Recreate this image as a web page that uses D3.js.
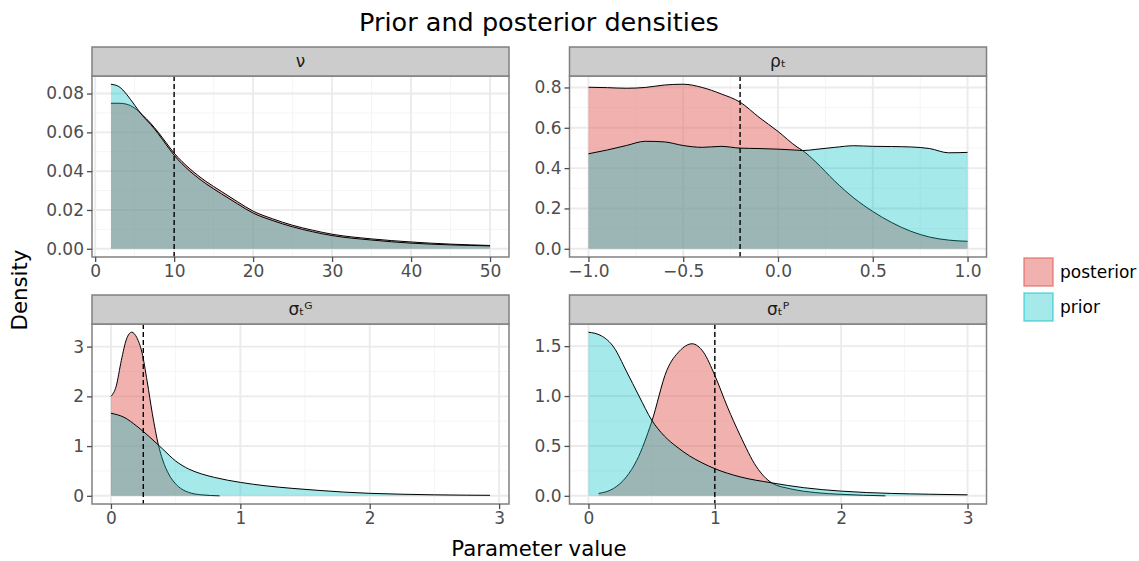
<!doctype html>
<html>
<head>
<meta charset="utf-8">
<script src="https://cdn.jsdelivr.net/npm/d3@7"></script>
<style>
  body { margin: 0; background: #fff; }
  svg text { font-family: "DejaVu Sans", sans-serif; }
</style>
</head>
<body>
<svg id="chart" width="1139" height="561"></svg>
<script>
// ---- data ----
const panelLabels = ["ν", "ρₜ", "σₜᴳ", "σₜᴾ"];
const groups = ["posterior", "prior"];
const refLines = [10, -0.2, 0.25, 1.0];

// nu
const nuX     = [2, 3, 4, 5, 6, 7, 8, 9, 10, 12, 14, 16, 18, 20, 22.5, 25, 27.5, 30, 35, 40, 45, 50];
const nuPrior = [0.0848, 0.0836, 0.0795, 0.0740, 0.0686, 0.0642, 0.0592, 0.0536, 0.0482, 0.0400, 0.0336, 0.0283, 0.0232, 0.0184, 0.0145, 0.0113, 0.0088, 0.0068, 0.0045, 0.0029, 0.0020, 0.0015];
const nuPost  = [0.0750, 0.0750, 0.0745, 0.0725, 0.0689, 0.0648, 0.0600, 0.0546, 0.0493, 0.0412, 0.0348, 0.0295, 0.0243, 0.0194, 0.0154, 0.0121, 0.0096, 0.0075, 0.0051, 0.0035, 0.0024, 0.0017];

// rho
const rhoX     = [-1, -0.9, -0.8, -0.7, -0.6, -0.5, -0.4, -0.3, -0.2, -0.1, 0, 0.1, 0.13, 0.2, 0.3, 0.4, 0.5, 0.6, 0.7, 0.8, 0.9, 1.0];
const rhoPrior = [0.471, 0.490, 0.512, 0.533, 0.530, 0.512, 0.503, 0.508, 0.499, 0.497, 0.494, 0.489, 0.487, 0.493, 0.503, 0.511, 0.508, 0.507, 0.505, 0.497, 0.476, 0.478];
const rhoPost  = [0.801, 0.799, 0.796, 0.800, 0.812, 0.816, 0.800, 0.768, 0.727, 0.652, 0.582, 0.505, 0.487, 0.430, 0.335, 0.252, 0.185, 0.130, 0.087, 0.058, 0.043, 0.037];

// sigma G
const sgPostX  = [0, 0.04, 0.08, 0.12, 0.16, 0.2, 0.24, 0.28, 0.32, 0.367, 0.4, 0.45, 0.5, 0.55, 0.6, 0.7, 0.84];
const sgPost   = [2.0, 2.2, 2.72, 3.15, 3.29, 3.18, 2.88, 2.3, 1.65, 1.02, 0.72, 0.42, 0.24, 0.13, 0.07, 0.02, 0.0];
const sgPriorX = [0, 0.1, 0.2, 0.3, 0.367, 0.4, 0.5, 0.6, 0.7, 0.8, 1.0, 1.2, 1.4, 1.6, 1.8, 2.0, 2.25, 2.5, 2.75, 2.93];
const sgPrior  = [1.66, 1.58, 1.40, 1.18, 1.02, 0.94, 0.70, 0.54, 0.44, 0.37, 0.27, 0.20, 0.15, 0.11, 0.075, 0.05, 0.032, 0.02, 0.013, 0.01];

// sigma P
const spPostX  = [0.08, 0.2, 0.3, 0.383, 0.5, 0.62, 0.72, 0.82, 0.91, 1.0, 1.1, 1.2, 1.33, 1.45, 1.6, 1.8, 2.0, 2.35];
const spPost   = [0.024, 0.075, 0.19, 0.357, 0.74, 1.257, 1.45, 1.524, 1.44, 1.207, 0.89, 0.607, 0.29, 0.13, 0.07, 0.032, 0.015, 0.0];
const spPriorX = [0, 0.1, 0.2, 0.3, 0.4, 0.5, 0.6, 0.7, 0.8, 0.9, 1.0, 1.2, 1.45, 1.7, 2.0, 2.4, 2.7, 3.0];
const spPrior  = [1.64, 1.605, 1.49, 1.25, 1.00, 0.76, 0.60, 0.49, 0.40, 0.33, 0.272, 0.19, 0.13, 0.082, 0.047, 0.024, 0.016, 0.01];

// ticks
const xTicks = [[0, 10, 20, 30, 40, 50], [-1, -0.5, 0, 0.5, 1], [0, 1, 2, 3], [0, 1, 2, 3]];
const yTicks = [[0, 0.02, 0.04, 0.06, 0.08], [0, 0.2, 0.4, 0.6, 0.8], [0, 1, 2, 3], [0, 0.5, 1, 1.5]];
const xMinor = [[5, 15, 25, 35, 45], [-0.75, -0.25, 0.25, 0.75], [0.5, 1.5, 2.5], [0.5, 1.5, 2.5]];
const yMinor = [[0.01, 0.03, 0.05, 0.07], [0.1, 0.3, 0.5, 0.7], [0.5, 1.5, 2.5], [0.25, 0.75, 1.25]];
const xFmt = [d3.format("d"), d3.format(".1f"), d3.format("d"), d3.format("d")];
const yFmt = [d3.format(".2f"), d3.format(".1f"), d3.format("d"), d3.format(".1f")];

const series = [
  { post: [nuX, nuPost],     prior: [nuX, nuPrior] },
  { post: [rhoX, rhoPost],   prior: [rhoX, rhoPrior] },
  { post: [sgPostX, sgPost], prior: [sgPriorX, sgPrior] },
  { post: [spPostX, spPost], prior: [spPriorX, spPrior] }
];

// ---- layout ----
const colLeft = [92, 569.5], panelW = 417;
const stripTop = [47, 295], stripH = 29, panelH = [181, 180];
const fills = { posterior: "rgb(226,100,95)", prior: "rgb(0,191,196)" };
const alphas = { posterior: 0.5, prior: 0.35 };

const svg = d3.select("#chart");

svg.append("text")
  .attr("x", 539).attr("y", 31)
  .attr("text-anchor", "middle")
  .style("font-size", "25.5px")
  .text("Prior and posterior densities");

series.forEach(function(s, i) {
  const col = i % 2, row = Math.floor(i / 2);
  const left = colLeft[col], top = stripTop[row] + stripH, h = panelH[row];
  const g = svg.append("g");

  const toPts = a => a[0].map((x, k) => [x, a[1][k]]);
  const post = toPts(s.post), prior = toPts(s.prior);
  const all = post.concat(prior);
  const xe = d3.extent(all, d => d[0]);
  const ymax = d3.max(all, d => d[1]);
  const xpad = (xe[1] - xe[0]) * 0.05;
  const x = d3.scaleLinear().domain([xe[0] - xpad, xe[1] + xpad]).range([left, left + panelW]);
  const y = d3.scaleLinear().domain([-0.05 * ymax, 1.05 * ymax]).range([top + h, top]);

  // grid
  g.selectAll(".xmin").data(xMinor[i]).join("line")
    .attr("x1", d => x(d)).attr("x2", d => x(d)).attr("y1", top).attr("y2", top + h)
    .attr("stroke", "#f5f5f5").attr("stroke-width", 1);
  g.selectAll(".ymin").data(yMinor[i]).join("line")
    .attr("y1", d => y(d)).attr("y2", d => y(d)).attr("x1", left).attr("x2", left + panelW)
    .attr("stroke", "#f5f5f5").attr("stroke-width", 1);
  g.selectAll(".xmaj").data(xTicks[i]).join("line")
    .attr("x1", d => x(d)).attr("x2", d => x(d)).attr("y1", top).attr("y2", top + h)
    .attr("stroke", "#ebebeb").attr("stroke-width", 1.9);
  g.selectAll(".ymaj").data(yTicks[i]).join("line")
    .attr("y1", d => y(d)).attr("y2", d => y(d)).attr("x1", left).attr("x2", left + panelW)
    .attr("stroke", "#ebebeb").attr("stroke-width", 1.9);

  // densities: posterior first, prior on top
  const area = d3.area().x(d => x(d[0])).y0(y(0)).y1(d => y(d[1])).curve(d3.curveMonotoneX);
  const line = d3.line().x(d => x(d[0])).y(d => y(d[1])).curve(d3.curveMonotoneX);
  [["posterior", post], ["prior", prior]].forEach(function(p) {
    g.append("path").attr("d", area(p[1]))
      .attr("fill", fills[p[0]]).attr("fill-opacity", alphas[p[0]]);
    g.append("path").attr("d", line(p[1]))
      .attr("fill", "none").attr("stroke", "#000").attr("stroke-width", 1);
  });

  // reference line
  g.append("line")
    .attr("x1", x(refLines[i])).attr("x2", x(refLines[i]))
    .attr("y1", top).attr("y2", top + h)
    .attr("stroke", "#000").attr("stroke-width", 1.4).attr("stroke-dasharray", "5,3");

  // border
  g.append("rect").attr("x", left).attr("y", top).attr("width", panelW).attr("height", h)
    .attr("fill", "none").attr("stroke", "#808080").attr("stroke-width", 1.5);

  // strip
  g.append("rect").attr("x", left).attr("y", stripTop[row]).attr("width", panelW).attr("height", stripH)
    .attr("fill", "#cccccc").attr("stroke", "#808080").attr("stroke-width", 1.5);
  g.append("text")
    .attr("x", left + panelW / 2).attr("y", stripTop[row] + stripH / 2)
    .attr("dy", "0.35em").attr("text-anchor", "middle")
    .style("font-size", "17px").attr("fill", "#1a1a1a")
    .text(panelLabels[i]);

  // axes
  const xa = g.append("g").attr("transform", `translate(0,${top + h})`)
    .call(d3.axisBottom(x).tickValues(xTicks[i]).tickFormat(xFmt[i]).tickSize(5).tickPadding(3));
  const ya = g.append("g").attr("transform", `translate(${left},0)`)
    .call(d3.axisLeft(y).tickValues(yTicks[i]).tickFormat(yFmt[i]).tickSize(5).tickPadding(3));
  [xa, ya].forEach(function(a) {
    a.select(".domain").remove();
    a.selectAll(".tick line").attr("stroke", "#4d4d4d").attr("stroke-width", 1.3);
    a.selectAll(".tick text").attr("fill", "#4d4d4d")
      .style("font-size", "17px").style("font-family", "DejaVu Sans, sans-serif");
  });
});

// axis titles
svg.append("text")
  .attr("x", 539).attr("y", 556)
  .attr("text-anchor", "middle").style("font-size", "21.25px")
  .text("Parameter value");
svg.append("text")
  .attr("transform", "translate(27,290) rotate(-90)")
  .attr("text-anchor", "middle").style("font-size", "21.25px")
  .text("Density");

// legend
const legend = svg.append("g").attr("transform", "translate(1024,258)");
groups.forEach(function(gname, k) {
  legend.append("rect")
    .attr("x", 0).attr("y", k * 35).attr("width", 29).attr("height", 28)
    .attr("fill", fills[gname]).attr("fill-opacity", alphas[gname])
    .attr("stroke", fills[gname]).attr("stroke-opacity", alphas[gname] + 0.2).attr("stroke-width", 1.5);
  legend.append("text")
    .attr("x", 36).attr("y", k * 35 + 14).attr("dy", "0.35em")
    .style("font-size", "17px")
    .text(gname);
});
</script>
</body>
</html>
